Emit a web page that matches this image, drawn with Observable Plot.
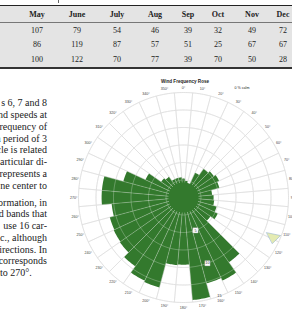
<!DOCTYPE html>
<html><head><meta charset="utf-8">
<script src="https://cdn.jsdelivr.net/npm/d3@7"></script>
<script src="https://cdn.jsdelivr.net/npm/@observablehq/plot@0.6"></script>
<style>
html,body{margin:0;padding:0;width:292px;height:313px;overflow:hidden;background:#fff}
body{position:relative;font-family:"Liberation Serif","DejaVu Serif",serif;color:#222}
.abs{position:absolute;white-space:nowrap}
.cell{transform:translate(-50%,-50%);font-size:8px;line-height:8px}
.hdr{font-weight:bold}
.line{font-size:10px;line-height:10px;transform:translateY(-50%)}
#chart{position:absolute;left:58px;top:72px;width:250px;height:250px}
#chart svg{max-width:none !important;width:250px;height:250px}
.ctext{font-family:"Liberation Sans","DejaVu Sans",sans-serif;color:#222}
</style></head><body>
<script>
// ---------- data ----------
const months = ["May","June","July","Aug","Sep","Oct","Nov","Dec"];
const row1 = [107,79,54,46,39,32,49,72];
const row2 = [86,119,87,57,51,25,67,67];
const row3 = [100,122,70,77,39,70,50,28];

const paragraph1 = ["s 6, 7 and 8","nd speeds at","requency of","a period of 3","cle is related","articular di-","represents a","ne center to"];
const paragraph2 = ["ormation, in","d bands that","use 16 car-","c., although","irections. In","corresponds"];
const paragraph2Last = "to 270°.";

const directions = [0,10,20,30,40,50,60,70,80,90,100,110,120,130,140,150,160,170,180,190,200,210,220,230,240,250,260,270,280,290,300,310,320,330,340,350];
const frequency = [2.7,2.4,1.9,3.9,5.0,5.3,5.6,5.3,4.1,4.3,4.4,4.9,5.4,4.7,11.3,13.1,12.7,14.7,9.6,9.7,13.3,13.1,12.0,11.1,11.0,10.9,10.3,11.7,11.7,8.9,6.0,3.9,3.6,2.9,2.9,2.9];
const calmRadius = 2.15;
const ringValues = [2.5,5,7.5,10,12.5,15];
const radialTickValues = [5,10,15];
const radialTickLabels = ["5","10","15"];
const radialTickAngle = 160;
const markerAngles = [112.9,111.4,117.3];
const markerRadii = [12.9,14.9,14.3];
const chartTitle = "Wind Frequency Rose";
const calmText = "0 % calm";

// ---------- page layout (table + text) ----------
const colX = [37,77,117,155,188,218,252,283];
const rowY = [30.5,45,60];
const body = document.body;
function add(html, cls, style){const d=document.createElement("div");d.className="abs "+cls;d.style.cssText=style;d.textContent=html;body.appendChild(d);return d;}
add("", "", "left:0;top:5px;width:292px;height:63px;background:#e4e4e4");
add("", "", "left:0;top:5px;width:292px;height:1.3px;background:#222");
add("", "", "left:0;top:22px;width:292px;height:0.8px;background:#777");
add("", "", "left:0;top:67px;width:292px;height:1.5px;background:#333");
add("", "", "left:58px;top:0;width:0.8px;height:3px;background:#666");
months.forEach((m,i)=>add(m,"cell hdr",`left:${colX[i]}px;top:15px`));
[row1,row2,row3].forEach((row,j)=>row.forEach((v,i)=>add(String(v),"cell",`left:${colX[i]}px;top:${rowY[j]}px`)));
paragraph1.forEach((t,i)=>add(t,"line",`right:${292-47}px;top:${103.3+i*11.75}px`));
paragraph2.forEach((t,i)=>add(t,"line",`right:${292-47}px;top:${202.7+i*11.75}px`));
add(paragraph2Last,"line",`left:0px;top:${202.7+6*11.75}px`);

// ---------- chart ----------
const GREEN = "#33792d";
const OUTER = 15, OUTER_PX = 105, SIZE = 250;
const toLon = a => 180 - a;
function fixWinding(coords){
  let f={type:"Polygon",coordinates:[coords]};
  if (d3.geoArea(f) > 2*Math.PI) f={type:"Polygon",coordinates:[coords.slice().reverse()]};
  return f;
}
function sector(a, r0, r1, half){
  const pts=[];
  for (let t=a-half;t<=a+half+1e-9;t+=1) pts.push([toLon(t),90-r1]);
  for (let t=a+half;t>=a-half-1e-9;t-=1) pts.push([toLon(t),90-r0]);
  pts.push(pts[0]);
  return fixWinding(pts);
}
const bars = directions.map((d,i)=>sector(d,1,frequency[i],5));
const rings = ringValues.map(r=>d3.geoCircle().center([0,90]).radius(r).precision(1)());
const disc = d3.geoCircle().center([0,90]).radius(calmRadius).precision(1)();
const spokes = directions.map(d=>d+5);
const markerPts = markerAngles.map((a,i)=>[toLon(a),90-markerRadii[i]]);
markerPts.push(markerPts[0]);
const marker = fixWinding(markerPts);

const proj = d3.geoAzimuthalEquidistant().rotate([0,-90])
  .scale(OUTER_PX/(OUTER*Math.PI/180)).translate([SIZE/2,SIZE/2]);

const gridOpts = {x1:d=>toLon(d),y1:90-calmRadius,x2:d=>toLon(d),y2:90-OUTER};
const chart = Plot.plot({
  width:SIZE,height:SIZE,margin:0,
  style:{background:"transparent",overflow:"visible",maxWidth:"none"},
  projection:proj,
  marks:[
    Plot.geo(rings,{stroke:"#bdbdbd",strokeWidth:0.6,fill:"none"}),
    Plot.link(spokes,{...gridOpts,stroke:"#bdbdbd",strokeWidth:0.6}),
    Plot.geo(bars,{fill:GREEN,stroke:"none"}),
    Plot.geo(rings,{stroke:"white",strokeOpacity:0.45,strokeWidth:0.6,fill:"none"}),
    Plot.link(spokes,{...gridOpts,stroke:"white",strokeOpacity:0.45,strokeWidth:0.6}),
    Plot.geo([disc],{fill:GREEN}),
    Plot.geo([marker],{fill:"#e4ebb2",stroke:"#86a9c9",strokeWidth:0.5}),
    Plot.text(directions,{x:d=>toLon(d),y:90-15.7,text:d=>`${d}°`,fontSize:3.6,fill:"#444",fontFamily:"Liberation Sans"}),
    Plot.dot(radialTickValues.slice(0,2),{x:toLon(radialTickAngle),y:d=>90-d,symbol:"square",r:3,fill:"white",stroke:"#999",strokeWidth:0.3}),
    Plot.text(radialTickValues,{x:toLon(radialTickAngle),y:d=>90-d,text:(d,i)=>radialTickLabels[i],fontSize:3.8,fill:"#333",fontFamily:"Liberation Sans"})
  ]
});
const holder=document.createElement("div");holder.id="chart";holder.appendChild(chart);body.appendChild(holder);
add(chartTitle,"ctext",`left:185px;top:81px;transform:translate(-50%,-50%);font-size:4.6px;font-weight:bold`);
add(calmText,"ctext",`left:242px;top:88px;transform:translate(-50%,-50%);font-size:3.6px`);
</script>
</body></html>
